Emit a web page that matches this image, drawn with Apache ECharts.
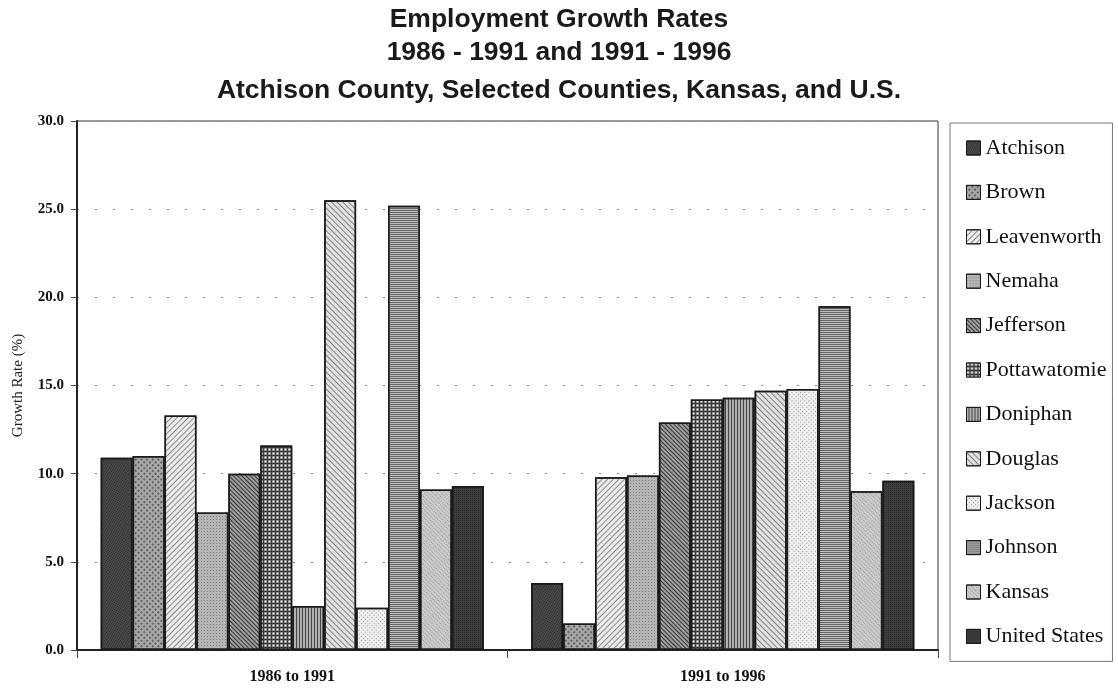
<!DOCTYPE html>
<html>
<head>
<meta charset="utf-8">
<script src="https://cdn.jsdelivr.net/npm/echarts@6/dist/echarts.min.js"></script>
<style>
  html, body { margin: 0; padding: 0; background: #fff; }
  #main { width: 1118px; height: 692px; }
</style>
</head>
<body>
<div id="main"></div>
<script>
var periods = ['1986 to 1991', '1991 to 1996'];
var names = ['Atchison', 'Brown', 'Leavenworth', 'Nemaha', 'Jefferson', 'Pottawatomie',
             'Doniphan', 'Douglas', 'Jackson', 'Johnson', 'Kansas', 'United States'];
// growth rate (%) for each county, [1986-91, 1991-96]
var atchison     = [10.9, 3.8];
var brown        = [11.0, 1.5];
var leavenworth  = [13.3, 9.8];
var nemaha       = [7.8, 9.9];
var jefferson    = [10.0, 12.9];
var pottawatomie = [11.6, 14.2];
var doniphan     = [2.5, 14.3];
var douglas      = [25.5, 14.7];
var jackson      = [2.4, 14.8];
var johnson      = [25.2, 19.5];
var kansas       = [9.1, 9.0];
var unitedStates = [9.3, 9.6];
var values = [atchison, brown, leavenworth, nemaha, jefferson, pottawatomie,
              doniphan, douglas, jackson, johnson, kansas, unitedStates];
var yTicks = [0, 5, 10, 15, 20, 25, 30];
var titleLines = ['Employment Growth Rates', '1986 - 1991 and 1991 - 1996',
                  'Atchison County, Selected Counties, Kansas, and U.S.'];

var serif = '"Liberation Serif", "DejaVu Serif", serif';
var sans = '"Liberation Sans", Arial, sans-serif';

// greyscale fill + hatch pattern per series
var fills = ['#4a4a4a', '#a8a8a8', '#ececec', '#b4b4b4', '#a0a0a0', '#3a3a3a',
             '#b0b0b0', '#e2e2e2', '#eeeeee', '#bdbdbd', '#cacaca', '#3e3e3e'];
var decals = [
  { color: 'rgba(0,0,0,0.45)', symbol: 'rect', dashArrayX: [1, 1], dashArrayY: [1, 1] },
  { color: '#333', symbol: 'rect', dashArrayX: [2, 2], dashArrayY: [2, 2], rotation: Math.PI / 4 },
  { color: '#8a8a8a', symbol: 'rect', dashArrayX: [1, 0], dashArrayY: [1, 3], rotation: -Math.PI / 4 },
  { color: '#808080', symbol: 'rect', dashArrayX: [1, 2], dashArrayY: [1, 2] },
  { color: '#333', symbol: 'rect', dashArrayX: [1, 0], dashArrayY: [1, 2], rotation: Math.PI / 4 },
  { color: '#f0f0f0', symbol: 'rect', dashArrayX: [3, 1], dashArrayY: [3, 1] },
  { color: '#444', symbol: 'rect', dashArrayX: [1, 0], dashArrayY: [1, 2], rotation: Math.PI / 2 },
  { color: '#6a6a6a', symbol: 'rect', dashArrayX: [1, 0], dashArrayY: [1, 3], rotation: Math.PI / 4 },
  { color: '#9a9a9a', symbol: 'rect', dashArrayX: [1, 2], dashArrayY: [1, 2] },
  { color: '#666', symbol: 'rect', dashArrayX: [1, 0], dashArrayY: [1, 1] },
  { color: '#9a9a9a', symbol: 'rect', dashArrayX: [1, 1], dashArrayY: [1, 2] },
  { color: 'rgba(0,0,0,0.5)', symbol: 'rect', dashArrayX: [1, 1], dashArrayY: [1, 1] }
];

var series = names.map(function (n, i) {
  return {
    name: n,
    type: 'bar',
    data: values[i],
    barGap: 0,
    barCategoryGap: '11%',
    itemStyle: {
      color: fills[i],
      borderColor: '#1a1a1a',
      borderWidth: 1.5,
      decal: decals[i]
    },
    emphasis: { disabled: true }
  };
});

var titleTops = [6, 39, 77];
var titles = titleLines.map(function (t, i) {
  return {
    text: t,
    left: 'center',
    top: titleTops[i],
    padding: 0,
    textStyle: { fontFamily: sans, fontSize: 26.5, fontWeight: 'bold', color: '#1a1a1a' }
  };
});

var chart = echarts.init(document.getElementById('main'));
chart.setOption({
  animation: false,
  backgroundColor: '#fff',
  aria: { enabled: true, decal: { show: true } },
  title: titles,
  legend: {
    orient: 'vertical',
    left: 950,
    top: 123,
    padding: [14, 6, 14, 16],
    borderColor: '#777',
    borderWidth: 1,
    itemWidth: 14,
    itemHeight: 14,
    itemGap: 22.4,
    icon: 'rect',
    itemStyle: { borderColor: '#1a1a1a', borderWidth: 1 },
    textStyle: { fontFamily: serif, fontSize: 22, color: '#111', lineHeight: 20 },
    data: names
  },
  grid: {
    left: 77, right: 180, top: 121, bottom: 42,
    show: true, borderColor: '#333', borderWidth: 1
  },
  xAxis: {
    type: 'category',
    data: periods,
    axisLine: { lineStyle: { color: '#222', width: 2 } },
    axisTick: { show: true, length: 8, lineStyle: { color: '#444' } },
    axisLabel: { margin: 19, fontFamily: serif, fontSize: 16, fontWeight: 'bold', color: '#111' }
  },
  yAxis: {
    type: 'value',
    min: 0, max: 30, interval: 5,
    name: 'Growth Rate (%)',
    nameLocation: 'middle',
    nameGap: 51,
    nameTextStyle: { fontFamily: serif, fontSize: 15, color: '#222' },
    axisLine: { show: true, lineStyle: { color: '#222', width: 2 } },
    axisTick: { show: true, length: 6, lineStyle: { color: '#444' } },
    axisLabel: {
      margin: 13, fontFamily: serif, fontSize: 15, fontWeight: 'bold', color: '#111',
      formatter: function (v) { return yTicks.indexOf(v) >= 0 ? v.toFixed(1) : ''; }
    },
    splitLine: { show: true, lineStyle: { color: '#8a8a8a', type: [2, 16], width: 1.2 } }
  },
  series: series
});
</script>
</body>
</html>
